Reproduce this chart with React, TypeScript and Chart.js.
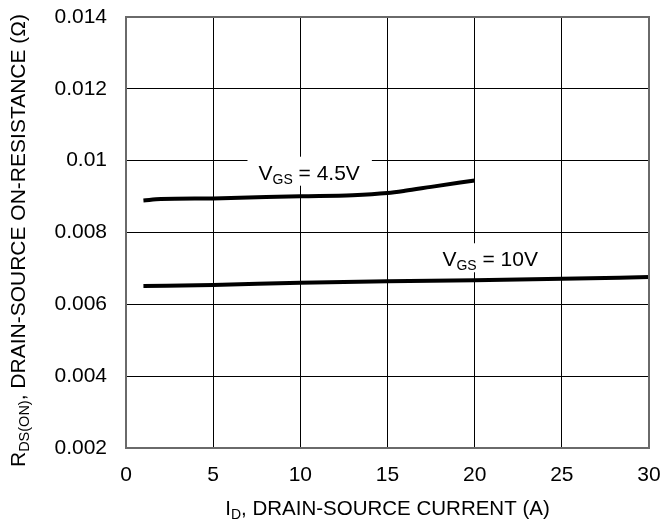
import { useEffect, useRef } from "react";
import { Chart, registerables } from "chart.js";

Chart.register(...registerables);

// Drain current (A) and on-resistance (Ω) for each gate drive
const vgs45Current = [1, 2, 5, 10, 13, 15, 16, 17.5, 20];
const vgs45Rds = [0.00889, 0.00893, 0.00895, 0.00901, 0.00904, 0.0091, 0.00916, 0.00927, 0.00945];
const vgs10Current = [1, 5, 10, 15, 20, 25, 30];
const vgs10Rds = [0.00651, 0.00654, 0.0066, 0.00664, 0.00667, 0.00671, 0.00676];

const xTicks = [0, 5, 10, 15, 20, 25, 30];
const yTicks = [0.002, 0.004, 0.006, 0.008, 0.01, 0.012, 0.014];
const yTickLabels = ["0.002", "0.004", "0.006", "0.008", "0.01", "0.012", "0.014"];

const FONT = "'Liberation Sans', Arial, Helvetica, sans-serif";

type Part = { text: string; sub?: boolean };

// Curve labels, anchored at the text start / baseline in data units
const curveLabels: { parts: Part[]; x: number; y: number }[] = [
  { parts: [{ text: "V" }, { text: "GS", sub: true }, { text: " = 4.5V" }], x: 7.6, y: 0.00947 },
  { parts: [{ text: "V" }, { text: "GS", sub: true }, { text: " = 10V" }], x: 18.15, y: 0.00706 },
];

const xTitle: Part[] = [{ text: "I" }, { text: "D", sub: true }, { text: ", DRAIN-SOURCE CURRENT (A)" }];
const yTitle: Part[] = [
  { text: "R" },
  { text: "DS(ON)", sub: true },
  { text: ", DRAIN-SOURCE ON-RESISTANCE (Ω)" },
];

function partsWidth(ctx: CanvasRenderingContext2D, parts: Part[], size: number, subSize: number) {
  let w = 0;
  for (const p of parts) {
    ctx.font = `${p.sub ? subSize : size}px ${FONT}`;
    w += ctx.measureText(p.text).width;
  }
  return w;
}

function drawParts(
  ctx: CanvasRenderingContext2D,
  parts: Part[],
  x: number,
  y: number,
  size: number,
  subSize: number,
  subDrop: number
) {
  ctx.textAlign = "left";
  ctx.textBaseline = "alphabetic";
  ctx.fillStyle = "#000";
  let cx = x;
  for (const p of parts) {
    ctx.font = `${p.sub ? subSize : size}px ${FONT}`;
    ctx.fillText(p.text, cx, p.sub ? y + subDrop : y);
    cx += ctx.measureText(p.text).width;
  }
}

const decorations = {
  id: "decorations",
  afterDatasetsDraw(chart: Chart) {
    const { ctx, chartArea, scales } = chart;
    const xs = scales.x;
    const ys = scales.y;
    ctx.save();

    // curve labels on white boxes
    for (const lbl of curveLabels) {
      const px = xs.getPixelForValue(lbl.x);
      const py = ys.getPixelForValue(lbl.y);
      const w = partsWidth(ctx, lbl.parts, 21, 14);
      ctx.fillStyle = "#fff";
      ctx.fillRect(px - 11, py - 23, w + 23, 29);
      drawParts(ctx, lbl.parts, px, py, 21, 14, 4);
    }

    // plot frame
    ctx.strokeStyle = "#6a6a6a";
    ctx.lineWidth = 2;
    ctx.strokeRect(chartArea.left, chartArea.top, chartArea.right - chartArea.left, chartArea.bottom - chartArea.top);

    // x axis title
    const xw = partsWidth(ctx, xTitle, 20.5, 14);
    const xc = (chartArea.left + chartArea.right) / 2;
    drawParts(ctx, xTitle, xc - xw / 2, 515, 20.5, 14, 4);

    // y axis title (rotated)
    const yw = partsWidth(ctx, yTitle, 21, 14.5);
    const yc = (chartArea.top + chartArea.bottom) / 2 + 8;
    ctx.translate(25, yc + yw / 2);
    ctx.rotate(-Math.PI / 2);
    drawParts(ctx, yTitle, 0, 0, 21, 14.5, 4);

    ctx.restore();
  },
};

export default function App() {
  const canvasRef = useRef<HTMLCanvasElement>(null);

  useEffect(() => {
    document.body.style.margin = "0";
    const canvas = canvasRef.current;
    if (!canvas) return;

    const chart = new Chart(canvas, {
      type: "line",
      data: {
        datasets: [
          {
            label: "VGS = 4.5V",
            data: vgs45Current.map((x, i) => ({ x, y: vgs45Rds[i] })),
            borderColor: "#000",
            borderWidth: 4,
            pointRadius: 0,
            cubicInterpolationMode: "monotone",
            fill: false,
          },
          {
            label: "VGS = 10V",
            data: vgs10Current.map((x, i) => ({ x, y: vgs10Rds[i] })),
            borderColor: "#000",
            borderWidth: 4,
            pointRadius: 0,
            cubicInterpolationMode: "monotone",
            fill: false,
          },
        ],
      },
      options: {
        responsive: false,
        animation: false,
        layout: { padding: { left: 0, top: 17, right: 12, bottom: 0 } },
        plugins: {
          legend: { display: false },
          tooltip: { enabled: false },
        },
        scales: {
          x: {
            type: "linear",
            min: 0,
            max: 30,
            afterBuildTicks: (scale: any) => {
              scale.ticks = xTicks.map((v) => ({ value: v }));
            },
            afterFit: (scale: any) => {
              scale.height = 77;
              scale.paddingLeft = 0;
              scale.paddingRight = 0;
            },
            ticks: {
              padding: 15,
              color: "#000",
              font: { family: FONT, size: 21 },
              callback: (v: any) => String(v),
            },
            grid: { color: "#000", lineWidth: 1, drawTicks: false },
            border: { display: false },
          },
          y: {
            type: "linear",
            min: 0.002,
            max: 0.014,
            afterBuildTicks: (scale: any) => {
              scale.ticks = yTicks.map((v) => ({ value: v }));
            },
            afterFit: (scale: any) => {
              scale.width = 126;
              scale.paddingTop = 0;
              scale.paddingBottom = 0;
            },
            ticks: {
              padding: 19,
              color: "#000",
              font: { family: FONT, size: 21 },
              callback: (_v: any, i: number) => yTickLabels[i],
            },
            grid: { color: "#000", lineWidth: 1, drawTicks: false },
            border: { display: false },
          },
        },
      },
      plugins: [decorations],
    });

    return () => chart.destroy();
  }, []);

  return (
    <div style={{ width: 661, height: 525 }}>
      <canvas ref={canvasRef} width={661} height={525} />
    </div>
  );
}
